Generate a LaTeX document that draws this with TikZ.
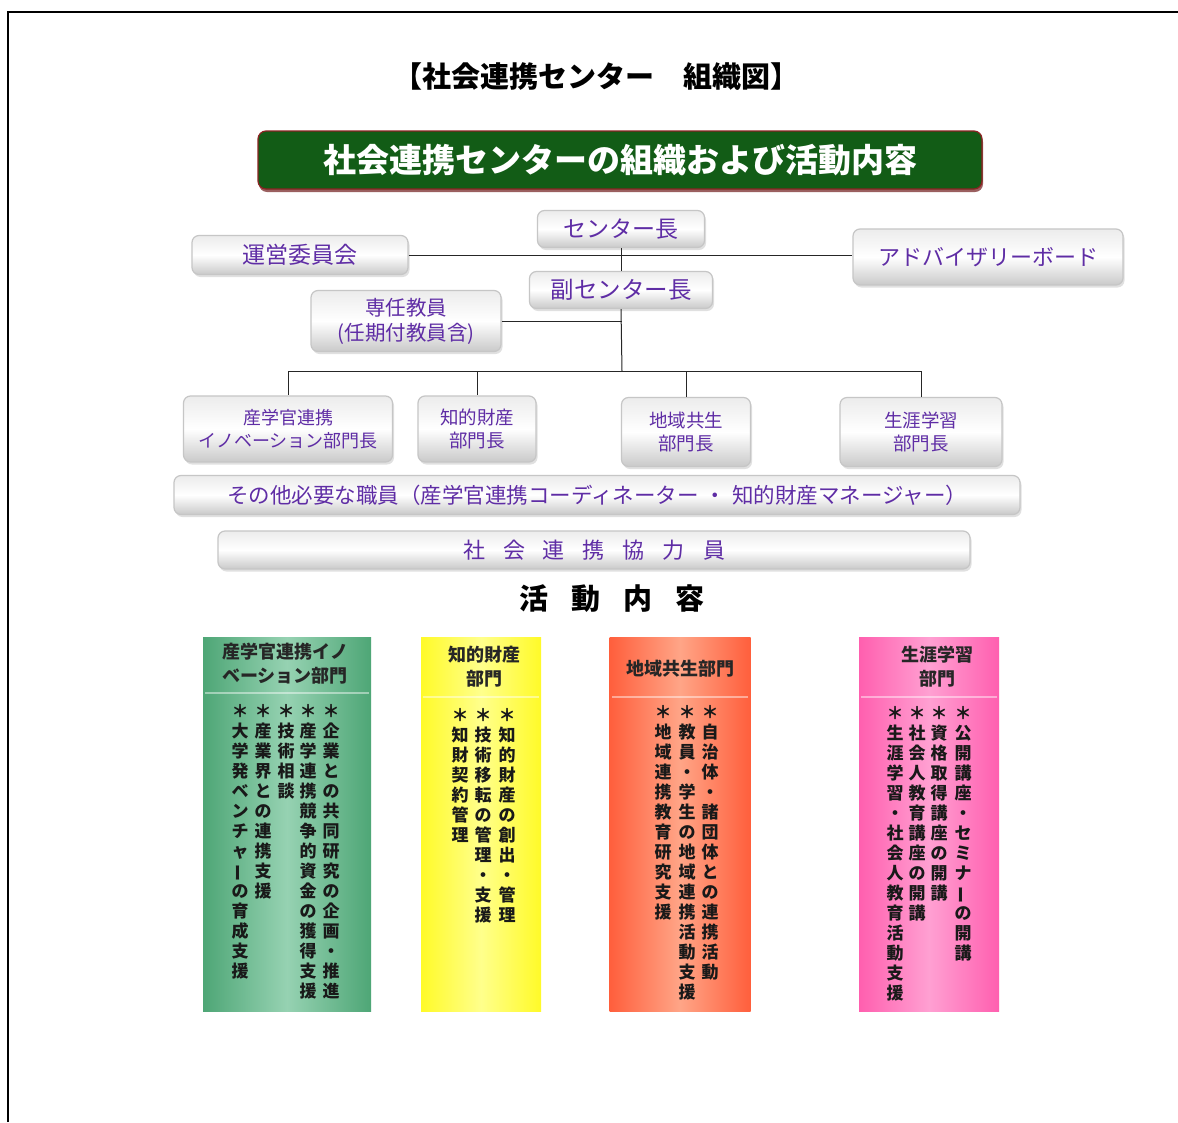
\documentclass[tikz,border=0pt]{standalone}
\usepackage{fontspec}
\usepackage{graphicx}
\usetikzlibrary{shadows}
\newfontfamily\jp{Noto Sans CJK JP}
\definecolor{txtp}{RGB}{95,45,165}
\definecolor{bgreen}{RGB}{18,92,22}
\definecolor{bred}{RGB}{140,35,35}
\definecolor{cgreenE}{RGB}{78,166,118}
\definecolor{cgreenM}{RGB}{150,210,178}
\definecolor{cyelE}{RGB}{255,250,40}
\definecolor{cyelM}{RGB}{255,255,140}
\definecolor{coraE}{RGB}{255,95,60}
\definecolor{coraM}{RGB}{255,165,135}
\definecolor{cpinkE}{RGB}{255,95,175}
\definecolor{cpinkM}{RGB}{255,160,210}
\ExplSyntaxOn
\NewDocumentCommand\vtext{m}
 {
  \vtop
   {
    \baselineskip=20pt \lineskiplimit=-20pt \lineskip=0pt
    \tl_map_inline:nn {#1}
     {
      \hbox_to_wd:nn {18pt}
       {
        \hss
        \str_if_eq:nnTF {##1}{ー}{\rotatebox[origin=c]{90}{ー}}{##1}
        \hss
       }
     }
   }
 }
\ExplSyntaxOff
\begin{document}
\begin{tikzpicture}[x=1pt,y=-1pt,
  gbox/.style={rounded corners=7pt, draw=gray!45, line width=1.2pt,
    top color=gray!15, bottom color=gray!42, middle color=white,
    drop shadow={shadow xshift=1.5pt, shadow yshift=-2.5pt, fill=gray!40, opacity=.6},
    text=txtp, inner sep=0pt, align=center},
  banner/.style={rounded corners=8pt, fill=bgreen, draw=bred, line width=1.2pt,
    drop shadow={shadow xshift=1pt, shadow yshift=-3pt, fill=bred!80!black, opacity=.7},
    text=white, inner sep=0pt, font=\jp\bfseries\fontsize{33}{36}\selectfont},
  colbox/.style={inner sep=0pt, draw=none},
  colhead/.style={inner sep=0pt, align=center, font=\jp\bfseries\fontsize{18}{24}\selectfont, text=black!85},
  vcol/.style={inner sep=0pt, anchor=north, font=\jp\bfseries\fontsize{17}{20}\selectfont, text=black!90},
  sep/.style={white, opacity=.45, line width=2pt},
  conn/.style={draw=black!85, line width=1pt}
]
\useasboundingbox (0,0) rectangle (1178,1122);
\fill[white] (0,0) rectangle (1178,1122);
\draw[line width=2pt] (8,1122) -- (8,12) -- (1178,12);

% title
\node[font=\jp\bfseries\fontsize{29}{32}\selectfont] (title) at (596,77) {【社会連携センター　組織図】};
\node[banner, minimum width=724pt, minimum height=58pt] (banner) at (620,160) {社会連携センターの組織および活動内容};

% org boxes
\node[gbox, minimum width=167pt, minimum height=37pt, font=\jp\fontsize{23}{26}\selectfont] (chief) at (621,229) {センター長};
\node[gbox, minimum width=216pt, minimum height=39pt, font=\jp\fontsize{23}{26}\selectfont] (unei) at (300,255) {運営委員会};
\node[gbox, minimum width=270pt, minimum height=56pt, font=\jp\fontsize{22}{26}\selectfont] (adv) at (988,257) {アドバイザリーボード};
\node[gbox, minimum width=183pt, minimum height=37pt, font=\jp\fontsize{23.5}{26}\selectfont] (vice) at (621,290) {副センター長};
\node[gbox, minimum width=190pt, minimum height=61pt, font=\jp\fontsize{20.5}{25}\selectfont] (senin) at (406,321) {専任教員\\(任期付教員含)};

\node[gbox, minimum width=209pt, minimum height=66pt, font=\jp\fontsize{18}{23}\selectfont] (d1) at (288,429) {産学官連携\\イノベーション部門長};
\node[gbox, minimum width=118pt, minimum height=66pt, font=\jp\fontsize{18.5}{23}\selectfont] (d2) at (477,429) {知的財産\\部門長};
\node[gbox, minimum width=129pt, minimum height=69pt, font=\jp\fontsize{18.5}{23}\selectfont] (d3) at (686,432) {地域共生\\部門長};
\node[gbox, minimum width=162pt, minimum height=69pt, font=\jp\fontsize{18.5}{23}\selectfont] (d4) at (921,432) {生涯学習\\部門長};

\node[gbox, minimum width=846pt, minimum height=39pt, font=\jp\fontsize{21.5}{24}\selectfont] (staff) at (597,495) {その他必要な職員（産学官連携コーディネーター\hspace{6pt}・\hspace{6pt}知的財産マネージャー）};
\node[gbox, minimum width=752pt, minimum height=38pt, font=\jp\fontsize{22}{24}\selectfont] (coop) at (594,550) {社\hspace{18pt}会\hspace{18pt}連\hspace{18pt}携\hspace{18pt}協\hspace{18pt}力\hspace{18pt}員};

% connectors
\coordinate (hub) at (622,371);
\draw[conn] (unei.east) -- (unei.east -| adv.west);
\draw[conn] (chief.south) -- (vice.north);
\draw[conn] (vice.south) -- (hub);
\draw[conn] (senin.east) -- (senin.east -| hub);
\draw[conn] (d1.north |- hub) -- (d4.north |- hub);
\draw[conn] (d1.north |- hub) -- (d1.north);
\draw[conn] (d2.north |- hub) -- (d2.north);
\draw[conn] (d3.north |- hub) -- (d3.north);
\draw[conn] (d4.north |- hub) -- (d4.north);

% activities
\node[font=\jp\bfseries\fontsize{29}{32}\selectfont] (act) at (612,599) {活\hspace{23pt}動\hspace{23pt}内\hspace{23pt}容};

\node[colbox, left color=cgreenE, right color=cgreenE, middle color=cgreenM, minimum width=168pt, minimum height=374pt] (cg) at (287,824) {};
\node[colbox, left color=cyelE, right color=cyelE, middle color=cyelM, minimum width=120pt, minimum height=374pt] (cy) at (481,824) {};
\node[colbox, left color=coraE, right color=coraE, middle color=coraM, minimum width=141pt, minimum height=374pt] (co) at (680,824) {};
\node[colbox, left color=cpinkE, right color=cpinkE, middle color=cpinkM, minimum width=140pt, minimum height=374pt] (cp) at (929,824) {};

% headers
\node[colhead, align=left] (hg) at (285,664) {産学官連携イノ\\ベーション部門};
\node[colhead] (hy) at (484,667) {知的財産\\部門};
\node[colhead] (ho) at (680,669) {地域共生部門};
\node[colhead] (hp) at (937,667) {生涯学習\\部門};

\draw[sep] (205,693) -- (369,693);
\draw[sep] (423,697) -- (539,697);
\draw[sep] (612,697) -- (748,697);
\draw[sep] (861,697) -- (997,697);

% green column texts (right to left)
\node[vcol] (g1) at (331,704) {\vtext{＊企業との共同研究の企画・推進}};
\node[vcol] (g2) at (308,704) {\vtext{＊産学連携競争的資金の獲得支援}};
\node[vcol] (g3) at (286,704) {\vtext{＊技術相談}};
\node[vcol] (g4) at (263,704) {\vtext{＊産業界との連携支援}};
\node[vcol] (g5) at (240,704) {\vtext{＊大学発ベンチャーの育成支援}};
% yellow
\node[vcol] (y1) at (507,708) {\vtext{＊知的財産の創出・管理}};
\node[vcol] (y2) at (483,708) {\vtext{＊技術移転の管理・支援}};
\node[vcol] (y3) at (460,708) {\vtext{＊知財契約管理}};
% orange
\node[vcol] (o1) at (710,705) {\vtext{＊自治体・諸団体との連携活動}};
\node[vcol] (o2) at (687,705) {\vtext{＊教員・学生の地域連携活動支援}};
\node[vcol] (o3) at (663,705) {\vtext{＊地域連携教育研究支援}};
% pink
\node[vcol] (p1) at (963,706) {\vtext{＊公開講座・セミナーの開講}};
\node[vcol] (p2) at (939,706) {\vtext{＊資格取得講座の開講}};
\node[vcol] (p3) at (917,706) {\vtext{＊社会人教育講座の開講}};
\node[vcol] (p4) at (895,706) {\vtext{＊生涯学習・社会人教育活動支援}};
\end{tikzpicture}
\end{document}
